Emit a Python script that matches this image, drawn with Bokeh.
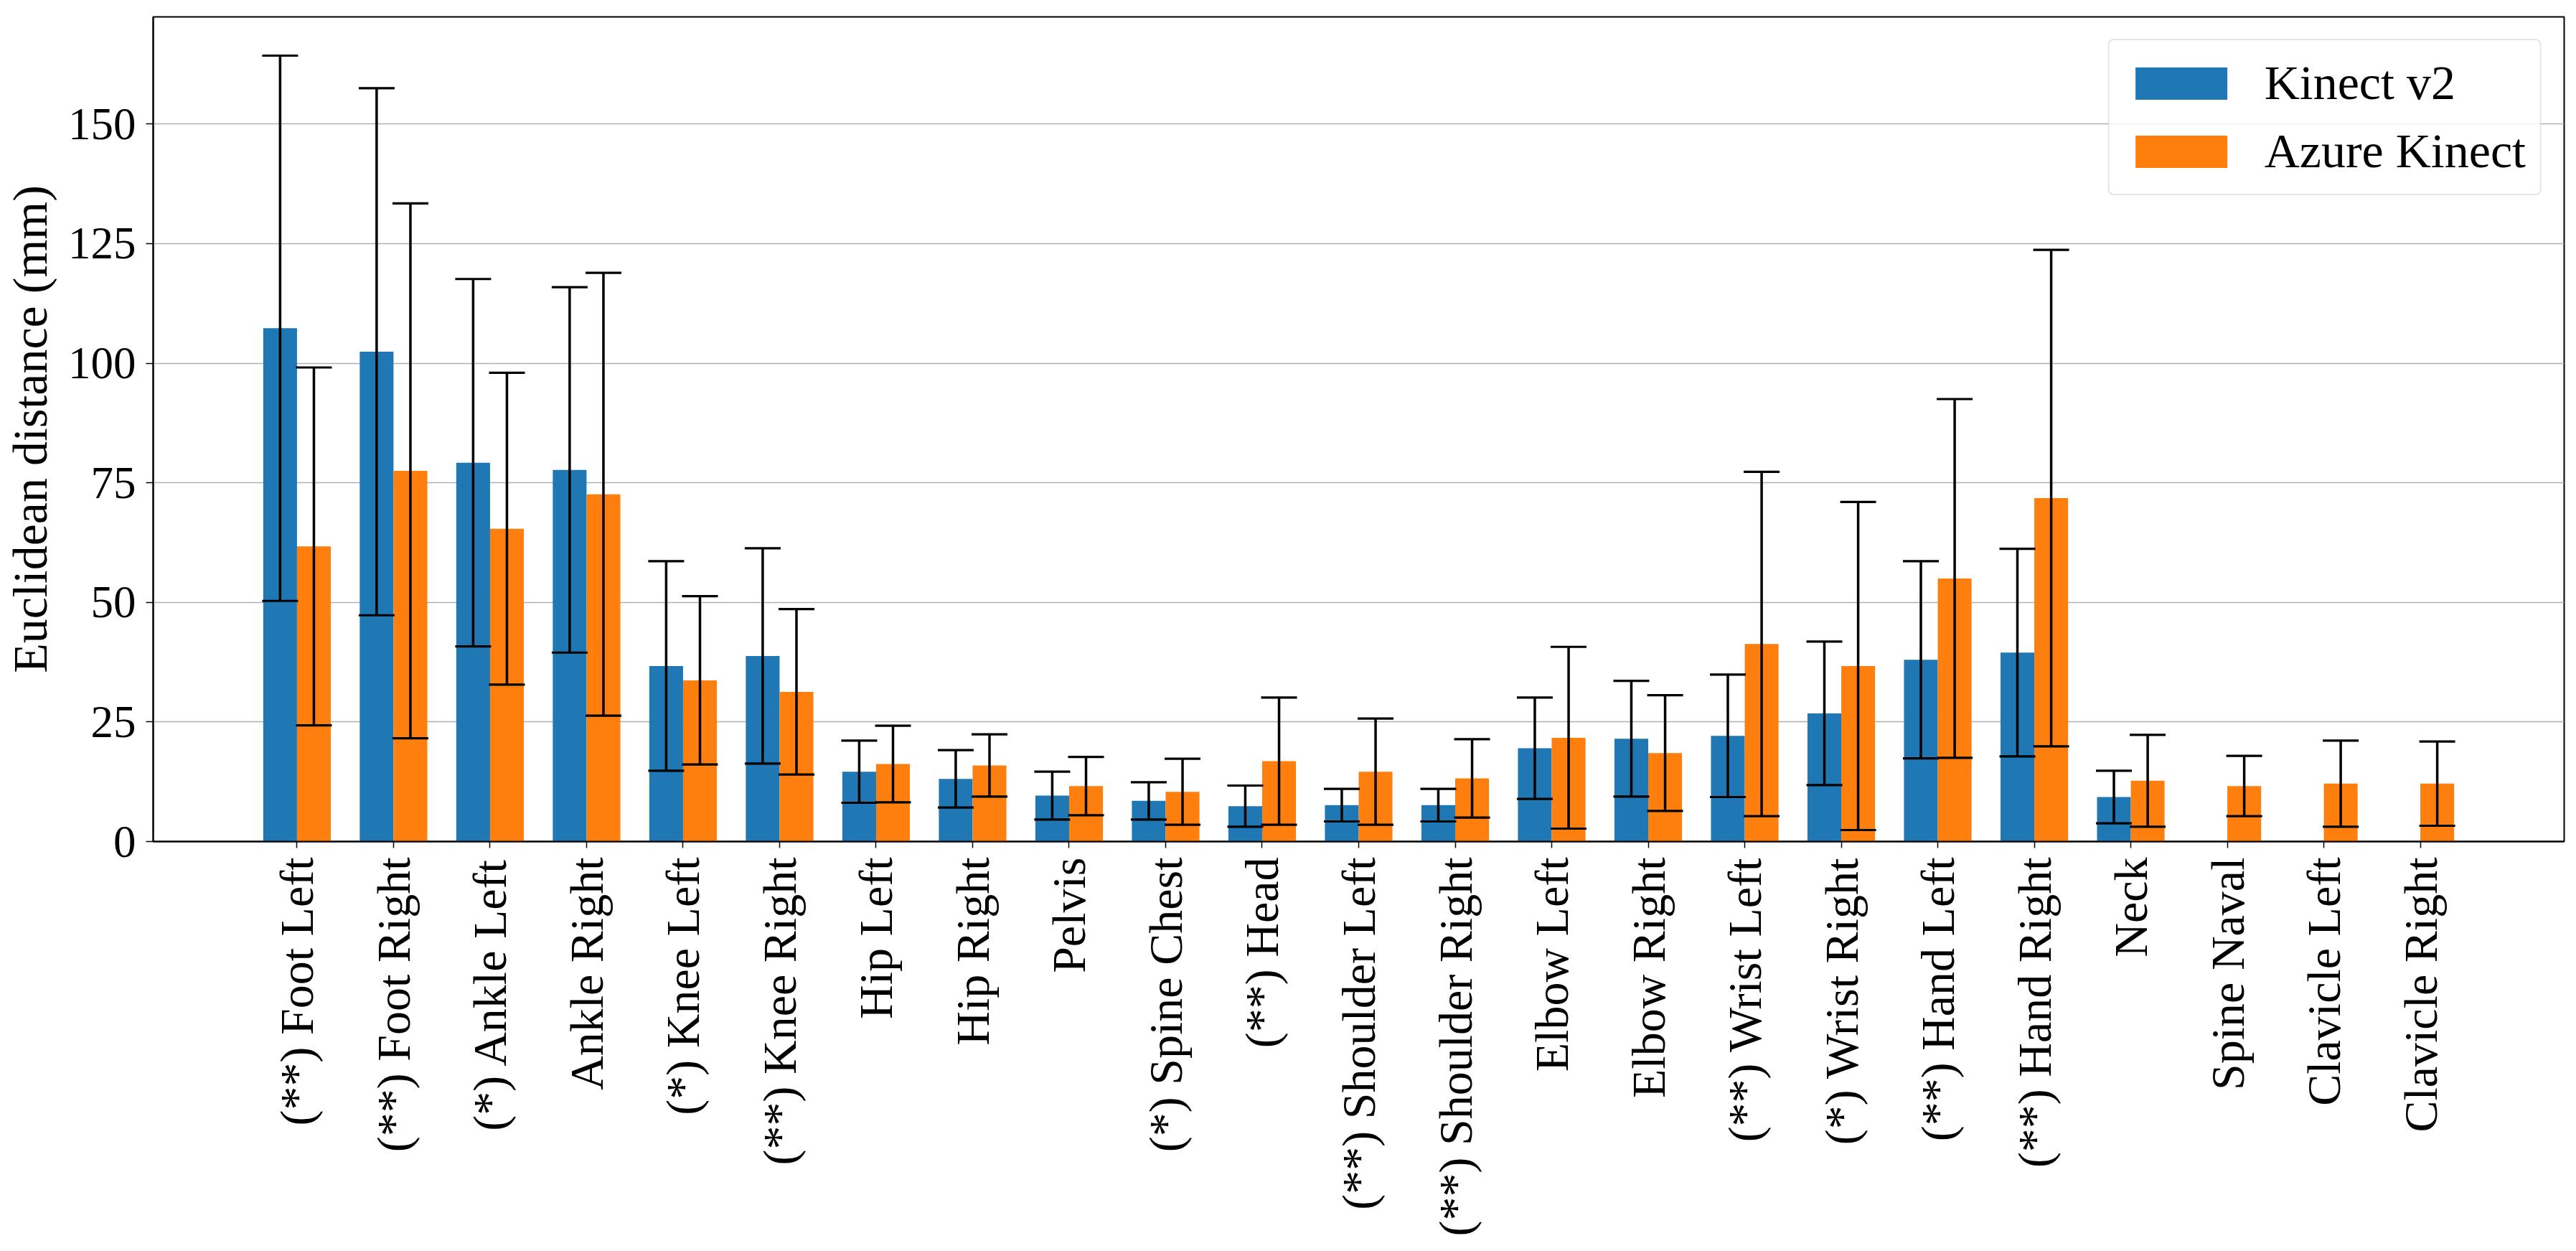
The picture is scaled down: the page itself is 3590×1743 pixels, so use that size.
import math
from bokeh.plotting import figure
from bokeh.models import (ColumnDataSource, Range1d, FixedTicker, Whisker, TeeHead,
                          Legend, LegendItem)
from bokeh.transform import dodge
from bokeh.embed import file_html
from bokeh.resources import INLINE

categories = ["(**) Foot Left", "(**) Foot Right", "(*) Ankle Left", "Ankle Right",
              "(*) Knee Left", "(**) Knee Right", "Hip Left", "Hip Right", "Pelvis",
              "(*) Spine Chest", "(**) Head", "(**) Shoulder Left", "(**) Shoulder Right",
              "Elbow Left", "Elbow Right", "(**) Wrist Left", "(*) Wrist Right",
              "(**) Hand Left", "(**) Hand Right", "Neck", "Spine Naval",
              "Clavicle Left", "Clavicle Right"]

kinect_v2_mean = [107.3, 102.4, 79.2, 77.7, 36.7, 38.8, 14.6, 13.1, 9.6, 8.5, 7.4, 7.6, 7.6,
                  19.5, 21.5, 22.1, 26.8, 38.0, 39.5, 9.3, None, None, None]
kinect_v2_std = [57.0, 55.1, 38.4, 38.2, 21.9, 22.5, 6.5, 6.0, 5.0, 3.9, 4.3, 3.4, 3.4,
                 10.6, 12.1, 12.8, 15.0, 20.6, 21.7, 5.5, None, None, None]

azure_mean = [61.7, 77.5, 65.4, 72.6, 33.7, 31.3, 16.2, 15.9, 11.6, 10.4, 16.8, 14.6, 13.2,
              21.7, 18.5, 41.3, 36.7, 55.0, 71.8, 12.7, 11.6, 12.1, 12.1]
azure_std = [37.4, 55.9, 32.6, 46.3, 17.6, 17.3, 8.0, 6.5, 6.1, 6.9, 13.3, 11.1, 8.2,
             19.0, 12.1, 36.0, 34.3, 37.5, 51.9, 9.6, 6.3, 9.0, 8.8]

series_names = ["Kinect v2", "Azure Kinect"]
colors = ["#1f77b4", "#ff7f0e"]
y_ticks = [0, 25, 50, 75, 100, 125, 150]

FONT = "Liberation Serif"


def make_source(means, stds):
    xs, tops, ups, los = [], [], [], []
    for i, (m, s) in enumerate(zip(means, stds)):
        if m is None:
            continue
        xs.append(i)
        tops.append(m)
        ups.append(m + s)
        los.append(m - s)
    return ColumnDataSource(dict(x=xs, top=tops, upper=ups, lower=los))


p = figure(width=3590, height=1743, output_backend="svg", toolbar_location=None,
           x_range=Range1d(-1.49, 23.49), y_range=Range1d(0, 172.4),
           min_border_left=213, min_border_right=17, min_border_top=23,
           min_border_bottom=571)

p.outline_line_color = "black"
p.outline_line_width = 2
p.background_fill_color = "white"
p.border_fill_color = "white"

p.xgrid.visible = False
p.ygrid.grid_line_color = "#b0b0b0"
p.ygrid.grid_line_width = 1.6

src_a = make_source(kinect_v2_mean, kinect_v2_std)
src_b = make_source(azure_mean, azure_std)

offset = 0.175
r_a = p.vbar(x=dodge("x", -offset, range=p.x_range), top="top", width=0.35,
             bottom=0, source=src_a, fill_color=colors[0], line_color=None)
r_b = p.vbar(x=dodge("x", offset, range=p.x_range), top="top", width=0.35,
             bottom=0, source=src_b, fill_color=colors[1], line_color=None)

for src, off in ((src_a, -offset), (src_b, offset)):
    w = Whisker(source=src, base=dodge("x", off, range=p.x_range), upper="upper",
                lower="lower", dimension="height", line_color="black", line_width=3.5,
                level="annotation",
                upper_head=TeeHead(size=50, line_width=3.2, line_color="black"),
                lower_head=TeeHead(size=50, line_width=3.2, line_color="black"))
    p.add_layout(w)

# axes
xa = p.xaxis[0]
xa.ticker = FixedTicker(ticks=list(range(len(categories))))
xa.major_label_overrides = {i: c for i, c in enumerate(categories)}
xa.major_label_orientation = math.pi / 2
xa.major_label_text_font = FONT
xa.major_label_text_font_size = "66px"
xa.major_label_text_color = "black"
xa.major_tick_out = 9
xa.major_tick_in = 0
xa.minor_tick_out = 0
xa.minor_tick_in = 0
xa.major_label_standoff = 13
xa.axis_line_color = "black"
xa.axis_line_width = 2
xa.major_tick_line_width = 1.5

ya = p.yaxis[0]
ya.ticker = FixedTicker(ticks=y_ticks)
ya.major_label_text_font = FONT
ya.major_label_text_font_size = "63px"
ya.major_label_text_color = "black"
ya.major_tick_out = 10
ya.major_tick_in = 0
ya.minor_tick_out = 0
ya.minor_tick_in = 0
ya.major_label_standoff = 14
ya.axis_line_color = "black"
ya.axis_line_width = 2
ya.major_tick_line_width = 1.5
ya.axis_label = "Euclidean distance (mm)"
ya.axis_label_text_font = FONT
ya.axis_label_text_font_size = "68px"
ya.axis_label_text_font_style = "normal"
ya.axis_label_text_color = "black"
ya.axis_label_standoff = 12

legend = Legend(items=[LegendItem(label=series_names[0], renderers=[r_a]),
                       LegendItem(label=series_names[1], renderers=[r_b])],
                location="top_right", margin=31, padding=20,
                glyph_width=160, glyph_height=56, label_standoff=36,
                label_height=50, spacing=16,
                label_text_font=FONT, label_text_font_size="68px",
                label_text_color="black",
                border_line_color="#cccccc", border_line_width=2,
                border_radius=8,
                background_fill_color="white", background_fill_alpha=0.8)
p.add_layout(legend)

open("out.html", "w").write(file_html(p, INLINE))
